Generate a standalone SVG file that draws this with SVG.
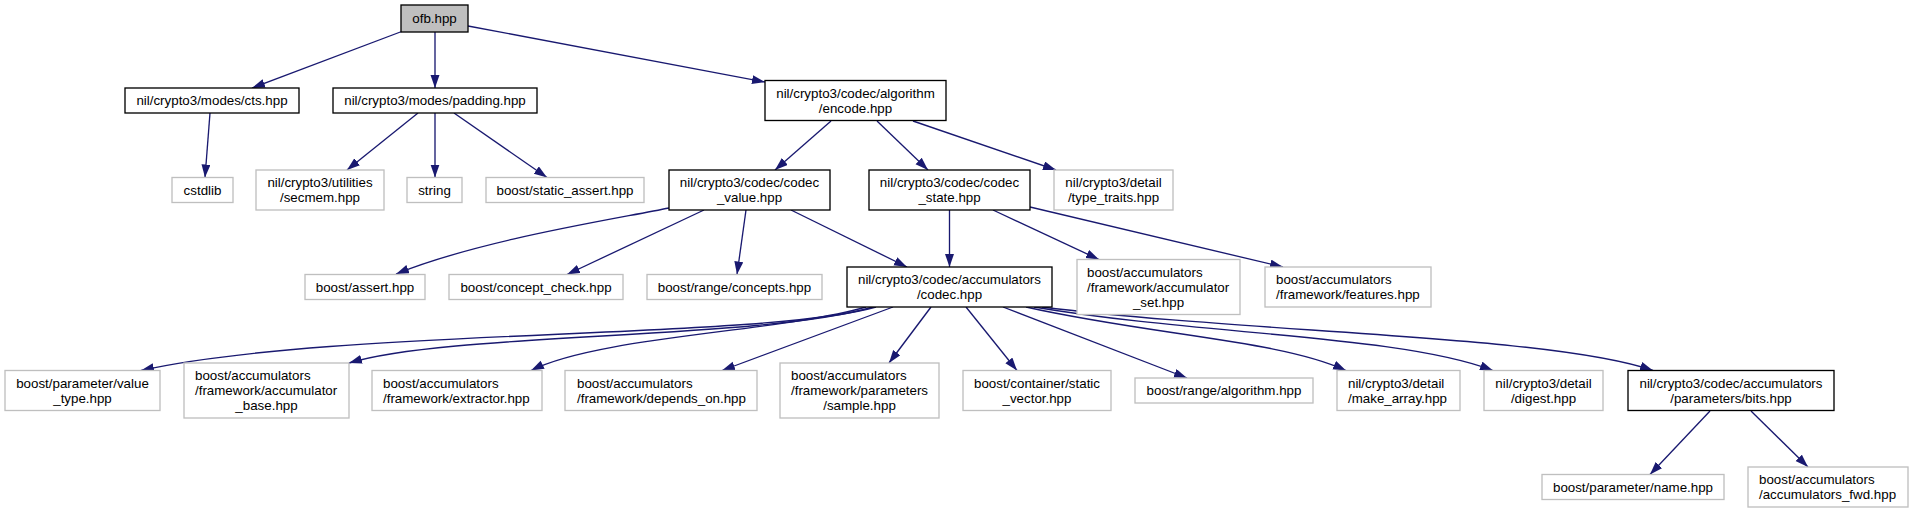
<svg xmlns="http://www.w3.org/2000/svg" width="1913" height="513" viewBox="0 0 1913 513">
<style>
text{font-family:"Liberation Sans",Arial,Helvetica,sans-serif;font-size:13.33px;fill:#000}
.c{text-anchor:middle}
.doc{fill:#fff;stroke:#000;stroke-width:1.33}
.root{fill:#bfbfbf;stroke:#000;stroke-width:1.33}
.ext{fill:#fff;stroke:#bfbfbf;stroke-width:1.33}
.e{fill:none;stroke:#191970;stroke-width:1.33;marker-end:url(#ah)}
</style>
<defs>
<marker id="ah" markerUnits="userSpaceOnUse" markerWidth="14" markerHeight="10" refX="13" refY="4.5" orient="auto">
<path d="M0,0 L13,4.5 L0,9 z" fill="#191970"/>
</marker>
</defs>
<rect width="1913" height="513" fill="#fff"/>
<g id="edges">
<path class="e" d="M403,31 L252,88"/>
<path class="e" d="M435,32 L435,88"/>
<path class="e" d="M468,26 L765,82"/>
<path class="e" d="M210,113 L205,177.5"/>
<path class="e" d="M418,113 L347,170"/>
<path class="e" d="M435,113 L435,177.5"/>
<path class="e" d="M454,113 L547,177.5"/>
<path class="e" d="M831,121 L775,170"/>
<path class="e" d="M877,121 L928,170"/>
<path class="e" d="M913,121 L1056,170"/>
<path class="e" d="M669,208 C610,220 480,240 396,274"/>
<path class="e" d="M704,210 L567,274.5"/>
<path class="e" d="M746,210 L737,274.5"/>
<path class="e" d="M791,210 L907,267"/>
<path class="e" d="M949.5,210 L949.5,267"/>
<path class="e" d="M993,210 L1099,259.5"/>
<path class="e" d="M1030,207 L1283,267"/>
<path class="e" d="M876,307 C760,340 330,328 141,370.5"/>
<path class="e" d="M873,307 C760,340 450,332 349,363"/>
<path class="e" d="M866,307 C780,332 600,336 531,370.5"/>
<path class="e" d="M893,307 L722,370.5"/>
<path class="e" d="M931,307 L889,363"/>
<path class="e" d="M966,307 L1017,370.5"/>
<path class="e" d="M1003,307 L1187,378"/>
<path class="e" d="M1026,307 C1150,335 1280,340 1346,370.5"/>
<path class="e" d="M1034,307 C1200,335 1400,335 1493,370.5"/>
<path class="e" d="M1042,307 C1250,333 1550,335 1653,370.5"/>
<path class="e" d="M1710,411 L1650,474.5"/>
<path class="e" d="M1751,411 L1808,467"/>
</g>
<g id="n_ofb"><rect class="root" x="401" y="5" width="67" height="27"/><text class="c" x="434.5" y="23">ofb.hpp</text></g>
<g id="n_cts"><rect class="doc" x="125" y="88" width="174" height="25"/><text class="c" x="212" y="105">nil/crypto3/modes/cts.hpp</text></g>
<g id="n_padding"><rect class="doc" x="333" y="88" width="204" height="25"/><text class="c" x="435" y="105">nil/crypto3/modes/padding.hpp</text></g>
<g id="n_encode"><rect class="doc" x="765" y="80.5" width="181" height="40"/><text class="c" x="855.5" y="97.5">nil/crypto3/codec/algorithm</text><text class="c" x="855.5" y="112.5">/encode.hpp</text></g>
<g id="n_cstdlib"><rect class="ext" x="172" y="177.5" width="61" height="25"/><text class="c" x="202.5" y="194.5">cstdlib</text></g>
<g id="n_secmem"><rect class="ext" x="256" y="170" width="128" height="40"/><text class="c" x="320" y="187">nil/crypto3/utilities</text><text class="c" x="320" y="202">/secmem.hpp</text></g>
<g id="n_string"><rect class="ext" x="407" y="177.5" width="55" height="25"/><text class="c" x="434.5" y="194.5">string</text></g>
<g id="n_static_assert"><rect class="ext" x="486" y="177.5" width="158" height="25"/><text class="c" x="565" y="194.5">boost/static_assert.hpp</text></g>
<g id="n_codec_value"><rect class="doc" x="669" y="170" width="161" height="40"/><text class="c" x="749.5" y="187">nil/crypto3/codec/codec</text><text class="c" x="749.5" y="202">_value.hpp</text></g>
<g id="n_codec_state"><rect class="doc" x="869" y="170" width="161" height="40"/><text class="c" x="949.5" y="187">nil/crypto3/codec/codec</text><text class="c" x="949.5" y="202">_state.hpp</text></g>
<g id="n_type_traits"><rect class="ext" x="1054" y="170" width="119" height="40"/><text class="c" x="1113.5" y="187">nil/crypto3/detail</text><text class="c" x="1113.5" y="202">/type_traits.hpp</text></g>
<g id="n_assert"><rect class="ext" x="305" y="274.5" width="120" height="25"/><text class="c" x="365" y="291.5">boost/assert.hpp</text></g>
<g id="n_concept_check"><rect class="ext" x="449" y="274.5" width="174" height="25"/><text class="c" x="536" y="291.5">boost/concept_check.hpp</text></g>
<g id="n_range_concepts"><rect class="ext" x="647" y="274.5" width="175" height="25"/><text class="c" x="734.5" y="291.5">boost/range/concepts.hpp</text></g>
<g id="n_codec"><rect class="doc" x="847" y="267" width="205" height="40"/><text class="c" x="949.5" y="284">nil/crypto3/codec/accumulators</text><text class="c" x="949.5" y="299">/codec.hpp</text></g>
<g id="n_acc_set"><rect class="ext" x="1077" y="259.5" width="163" height="55"/><text x="1087" y="276.5">boost/accumulators</text><text x="1087" y="291.5">/framework/accumulator</text><text class="c" x="1158.5" y="306.5">_set.hpp</text></g>
<g id="n_features"><rect class="ext" x="1265" y="267" width="166" height="40"/><text x="1276" y="284">boost/accumulators</text><text x="1276" y="299">/framework/features.hpp</text></g>
<g id="n_value_type"><rect class="ext" x="5" y="370.5" width="155" height="40"/><text class="c" x="82.5" y="387.5">boost/parameter/value</text><text class="c" x="82.5" y="402.5">_type.hpp</text></g>
<g id="n_acc_base"><rect class="ext" x="184" y="363" width="165" height="55"/><text x="195" y="380">boost/accumulators</text><text x="195" y="395">/framework/accumulator</text><text class="c" x="266.5" y="410">_base.hpp</text></g>
<g id="n_extractor"><rect class="ext" x="372" y="370.5" width="170" height="40"/><text x="383" y="387.5">boost/accumulators</text><text x="383" y="402.5">/framework/extractor.hpp</text></g>
<g id="n_depends_on"><rect class="ext" x="565" y="370.5" width="192" height="40"/><text x="577" y="387.5">boost/accumulators</text><text x="577" y="402.5">/framework/depends_on.hpp</text></g>
<g id="n_sample"><rect class="ext" x="780" y="363" width="159" height="55"/><text x="791" y="380">boost/accumulators</text><text x="791" y="395">/framework/parameters</text><text class="c" x="859.5" y="410">/sample.hpp</text></g>
<g id="n_static_vector"><rect class="ext" x="963" y="370.5" width="148" height="40"/><text class="c" x="1037" y="387.5">boost/container/static</text><text class="c" x="1037" y="402.5">_vector.hpp</text></g>
<g id="n_range_algorithm"><rect class="ext" x="1135" y="378" width="178" height="25"/><text class="c" x="1224" y="395">boost/range/algorithm.hpp</text></g>
<g id="n_make_array"><rect class="ext" x="1337" y="370.5" width="123" height="40"/><text x="1348" y="387.5">nil/crypto3/detail</text><text x="1348" y="402.5">/make_array.hpp</text></g>
<g id="n_digest"><rect class="ext" x="1484" y="370.5" width="119" height="40"/><text class="c" x="1543.5" y="387.5">nil/crypto3/detail</text><text class="c" x="1543.5" y="402.5">/digest.hpp</text></g>
<g id="n_bits"><rect class="doc" x="1628" y="370.5" width="206" height="40"/><text class="c" x="1731" y="387.5">nil/crypto3/codec/accumulators</text><text class="c" x="1731" y="402.5">/parameters/bits.hpp</text></g>
<g id="n_name"><rect class="ext" x="1542" y="474.5" width="182" height="25"/><text class="c" x="1633" y="491.5">boost/parameter/name.hpp</text></g>
<g id="n_fwd"><rect class="ext" x="1748" y="467" width="160" height="40"/><text x="1759" y="484">boost/accumulators</text><text x="1759" y="499">/accumulators_fwd.hpp</text></g>
</svg>
